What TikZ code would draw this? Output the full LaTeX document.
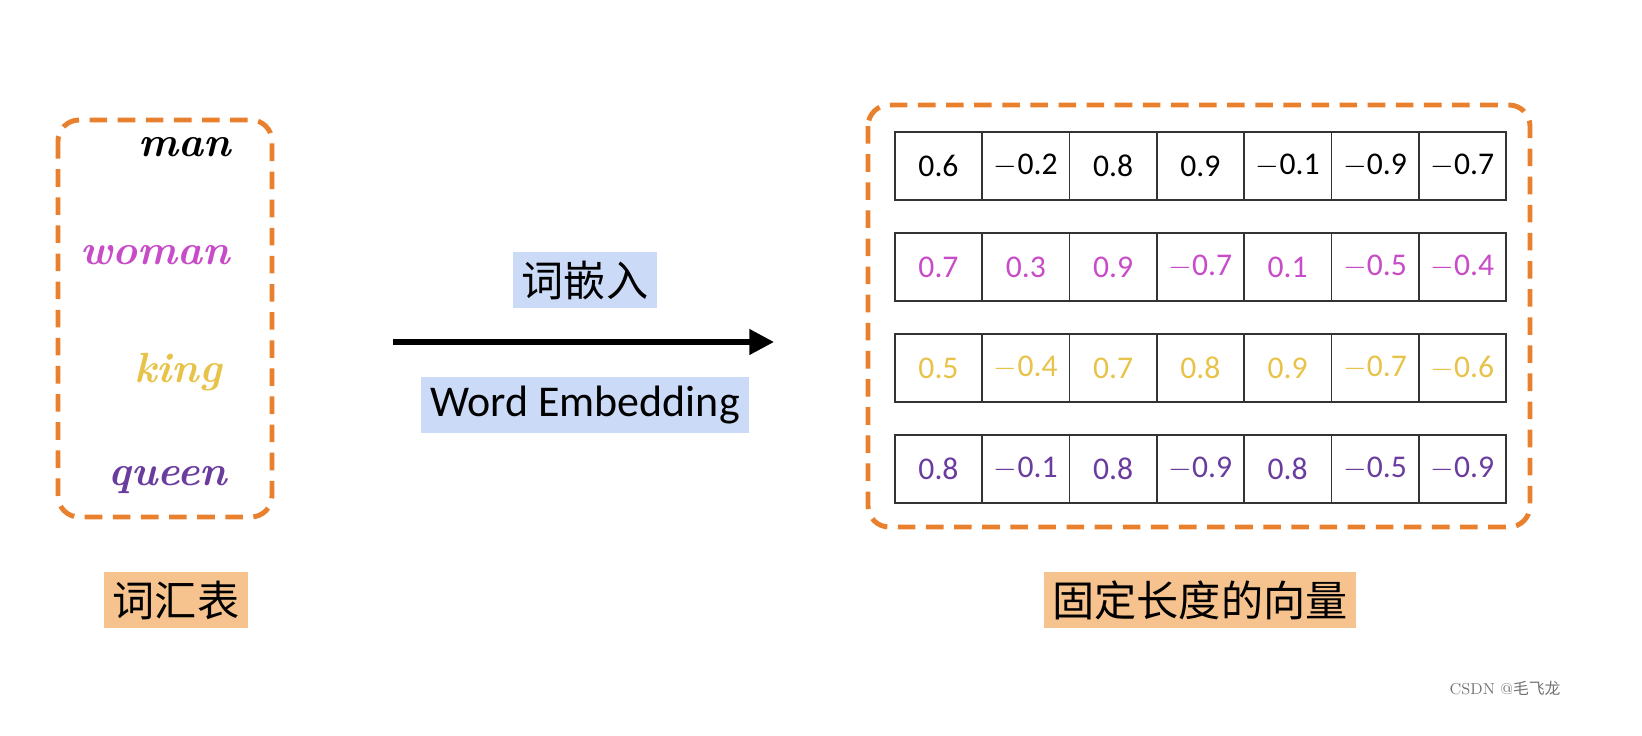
\documentclass[tikz,border=0pt]{standalone}
\usepackage{fontspec}
\setsansfont{Carlito}
\newfontfamily\cjk{Noto Sans CJK SC}
\usetikzlibrary{positioning,arrows.meta}
\definecolor{dashorange}{HTML}{E8802E}
\definecolor{wmagenta}{HTML}{C84BC8}
\definecolor{wyellow}{HTML}{E8C34A}
\definecolor{wpurple}{HTML}{6A3C9E}
\definecolor{bluebg}{HTML}{CBDAF6}
\definecolor{orangebg}{HTML}{F6C28E}
\begin{document}
\begin{tikzpicture}[
        x=0.02cm, y=-0.02cm,
        groupbox/.style={draw=dashorange, line width=2.8pt, dash pattern=on 10pt off 6pt, rounded corners=12pt},
        word/.style={font=\fontsize{24}{28}\selectfont\bfseries\itshape},
        cell/.style={draw=black!80, thick, minimum width=1.74cm, minimum height=1.36cm, inner sep=0pt, font=\sffamily\fontsize{18}{21}\selectfont},
        tag/.style={inner sep=5pt, font=\fontsize{24}{28}\selectfont},
        arrow/.style={line width=3pt, -{Stealth[length=14pt, width=14pt, inset=0pt]}}
    ]
        \useasboundingbox (0,0) rectangle (1642,736);
        % vocabulary
        \draw[groupbox] (58,120) rectangle (272,517);
        \node[word] (man) at (185,147) {man};
        \node[word, wmagenta] (woman) at (155,255) {woman};
        \node[word, wyellow] (king) at (178,372) {king};
        \node[word, wpurple] (queen) at (168,480) {queen};
        \node[tag, fill=orangebg] (vocab) at (176,600) {\cjk 词汇表};
        
        % embedding arrow
        \coordinate (src) at (393,342);
        \coordinate (dst) at (774,342);
        \draw[arrow] (src) -- (dst);
        \node[tag, fill=bluebg] (zh) at (585,280) {\cjk 词嵌入};
        \node[tag, fill=bluebg, font=\sffamily\fontsize{25}{29}\selectfont] (en) at (585,405) {Word Embedding};
        
        % vectors
        \draw[groupbox] (868,105) rectangle (1530,527);
        \foreach \vals [count=\r] in {{0.6,$-$0.2,0.8,0.9,$-$0.1,$-$0.9,$-$0.7},
                                       {0.7,0.3,0.9,$-$0.7,0.1,$-$0.5,$-$0.4},
                                       {0.5,$-$0.4,0.7,0.8,0.9,$-$0.7,$-$0.6},
                                       {0.8,$-$0.1,0.8,$-$0.9,0.8,$-$0.5,$-$0.9}} {
            \pgfmathsetmacro{\rowy}{166+(\r-1)*101}
            \ifcase\r\or\def\rowcol{black}\or\def\rowcol{wmagenta}\or\def\rowcol{wyellow}\or\def\rowcol{wpurple}\fi
            \foreach \v [count=\c] in \vals {
                \node[cell, text=\rowcol] (v\r\c) at ({895+43.5+(\c-1)*87.3},\rowy) {\v};
            }
        }
        \node[tag, fill=orangebg] (fixed) at (1200,600) {\cjk 固定长度的向量};
        \node[text=black!55, font=\fontsize{9}{11}\selectfont] (mark) at (1505,688) {CSDN @{\cjk 毛飞龙}};
    \end{tikzpicture}
\end{document}
